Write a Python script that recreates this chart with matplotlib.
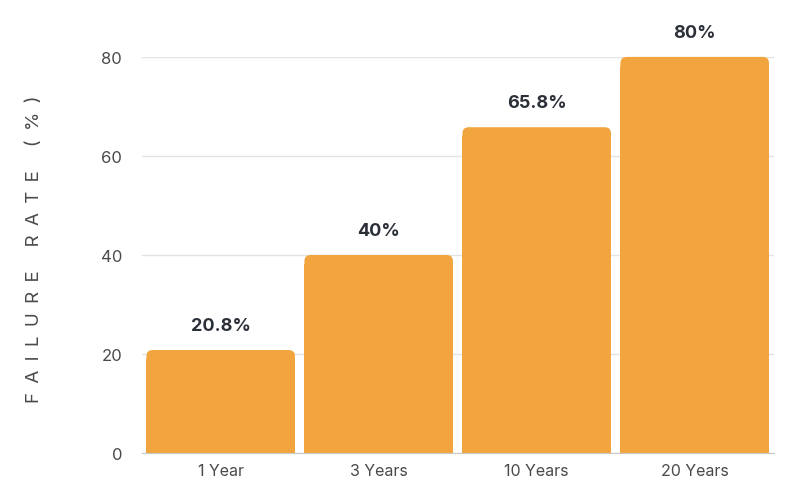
import matplotlib
matplotlib.use("Agg")
import matplotlib.pyplot as plt
from matplotlib.patches import FancyBboxPatch, Rectangle

plt.rcParams['font.family'] = ['Inter', 'DejaVu Sans']

# data
categories = ["1 Year", "3 Years", "10 Years", "20 Years"]
failure_rates = [20.8, 40, 65.8, 80]
value_labels = ["20.8%", "40%", "65.8%", "80%"]
y_ticks = [0, 20, 40, 60, 80]
y_title = "FAILURE RATE (%)"

bar_color = "#F2A53F"
text_dark = "#2B2F38"
tick_gray = "#4A4A4A"

fig = plt.figure(figsize=(7.96, 4.89), dpi=100)
ax = fig.add_axes([0.178, 0.0716, 0.794, 0.81])

x = list(range(len(categories)))
bars = ax.bar(x, failure_rates, width=0.94, color=bar_color, zorder=2)
ax.set_xlim(-0.5, len(categories) - 0.5)
ax.set_ylim(0, 80)

# rounded top corners: replace each bar with a rounded patch + square bottom
r_x = 0.04
r_y = 1.25
for b in bars:
    b.set_visible(False)
    x0, w, h = b.get_x(), b.get_width(), b.get_height()
    ax.add_patch(FancyBboxPatch((x0, 0), w, h,
                                boxstyle=f"round,pad=0,rounding_size={r_x}",
                                mutation_aspect=r_y / r_x,
                                fc=bar_color, ec="none", zorder=2, clip_on=False))
    ax.add_patch(Rectangle((x0, 0), w, h - r_y * 1.5, fc=bar_color, ec="none", zorder=2))

for xi, v, lab in zip(x, failure_rates, value_labels):
    ax.text(xi, v + 3.2, lab, ha="center", va="bottom", fontsize=13,
            fontweight="bold", color=text_dark, clip_on=False)

ax.set_yticks(y_ticks)
ax.set_yticklabels([str(t) for t in y_ticks], fontsize=12, color=tick_gray)
ax.set_xticks(x)
ax.set_xticklabels(categories, fontsize=11.5, color=tick_gray)
ax.tick_params(axis="x", length=0, pad=7)
ax.tick_params(axis="y", length=0, pad=14)

ax.grid(axis="y", color="#E3E3E3", linewidth=1, zorder=0)
ax.set_axisbelow(True)
for s in ["top", "right", "left"]:
    ax.spines[s].set_visible(False)
ax.spines["bottom"].set_color("#C8C8C8")
ax.spines["bottom"].set_zorder(3)

# letter-spaced y title
spaced = "\u2002".join(y_title)
fig.text(0.043, 0.491, spaced, rotation=90,
         ha="center", va="center", fontsize=13.5, color=tick_gray)

fig.savefig("out.png", dpi=100, facecolor="white")
